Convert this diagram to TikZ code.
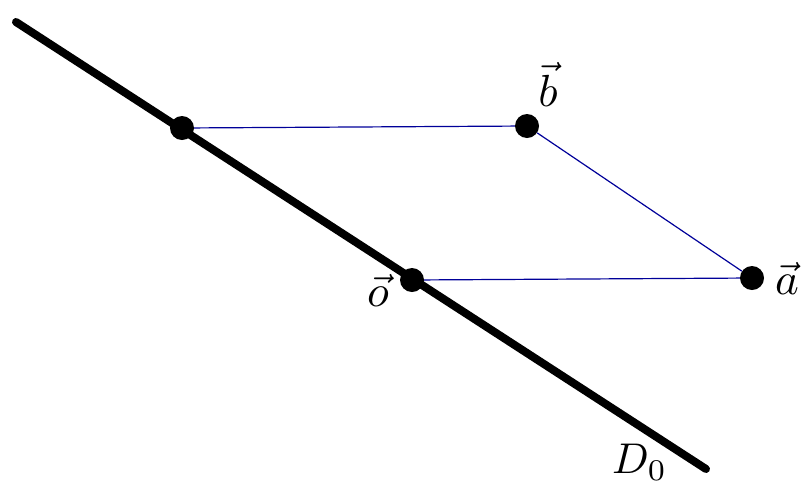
\documentclass[tikz,border=0pt]{standalone}
\begin{document}
\begin{tikzpicture}[x=1pt,y=-1pt,
  dot/.style={circle,fill=black,inner sep=0pt,minimum size=24pt},
  thin/.style={draw=blue!60!black,line width=1.2pt},
  lab/.style={inner sep=0pt}]
\useasboundingbox (0,0) rectangle (803,491);
\coordinate (s) at (16,22);
\coordinate (e) at (706,469);
\draw[line width=8pt,line cap=round] (s) -- (e);
\node[dot] (p) at (182,128) {};
\node[dot] (b) at (527,126) {};
\node[dot] (o) at (412,280) {};
\node[dot] (a) at (752,278) {};
\draw[thin] (p) -- (b);
\draw[thin] (b) -- (a);
\draw[thin] (o) -- (a);
\node[lab] (lb) at (548,84) {\scalebox{4.5}{$\vec{b}$}};
\node[lab] (lo) at (378,290) {\scalebox{4.5}{$\vec{o}$}};
\node[lab] (la) at (787,278) {\scalebox{4.5}{$\vec{a}$}};
\node[lab,anchor=north west] (ld) at (612,444) {\scalebox{4.3}{$D_0$}};
\end{tikzpicture}
\end{document}
